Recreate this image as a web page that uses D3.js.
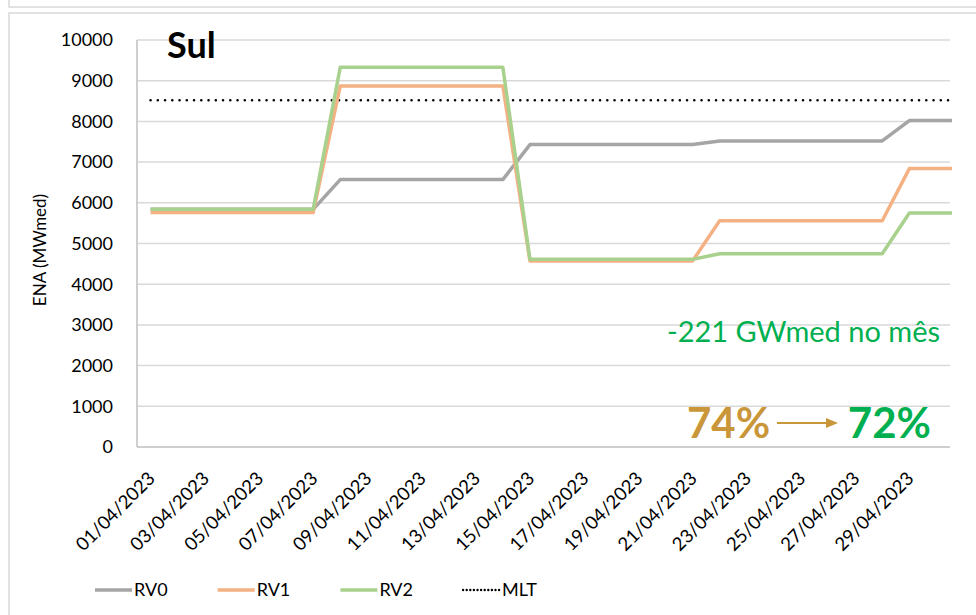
<!DOCTYPE html>
<html>
<head>
<meta charset="utf-8">
<script src="https://cdn.jsdelivr.net/npm/d3@7"></script>
<style>
  body { margin: 0; background: #fff; }
  svg { display: block; font-family: Lato, "Open Sans", sans-serif; }
</style>
</head>
<body>
<div id="chart-container"></div>
<script>
// Dates of April 2023 (one point per day)
const dates = [
  "01/04/2023", "02/04/2023", "03/04/2023", "04/04/2023", "05/04/2023",
  "06/04/2023", "07/04/2023", "08/04/2023", "09/04/2023", "10/04/2023",
  "11/04/2023", "12/04/2023", "13/04/2023", "14/04/2023", "15/04/2023",
  "16/04/2023", "17/04/2023", "18/04/2023", "19/04/2023", "20/04/2023",
  "21/04/2023", "22/04/2023", "23/04/2023", "24/04/2023", "25/04/2023",
  "26/04/2023", "27/04/2023", "28/04/2023", "29/04/2023", "30/04/2023"
];

// ENA (MWmed) per revision
const rv0 = [
  5840, 5840, 5840, 5840, 5840, 5840, 5840,
  6570, 6570, 6570, 6570, 6570, 6570, 6570,
  7430, 7430, 7430, 7430, 7430, 7430, 7430,
  7520, 7520, 7520, 7520, 7520, 7520, 7520,
  8020, 8020
];
const rv1 = [
  5760, 5760, 5760, 5760, 5760, 5760, 5760,
  8870, 8870, 8870, 8870, 8870, 8870, 8870,
  4570, 4570, 4570, 4570, 4570, 4570, 4570,
  5560, 5560, 5560, 5560, 5560, 5560, 5560,
  6840, 6840
];
const rv2 = [
  5840, 5840, 5840, 5840, 5840, 5840, 5840,
  9330, 9330, 9330, 9330, 9330, 9330, 9330,
  4610, 4610, 4610, 4610, 4610, 4610, 4610,
  4750, 4750, 4750, 4750, 4750, 4750, 4750,
  5750, 5750
];
const mlt = 8520;

const yTicks = [0, 1000, 2000, 3000, 4000, 5000, 6000, 7000, 8000, 9000, 10000];
const xTickLabels = dates.filter((d, i) => i % 2 === 0);

const seriesNames = ["RV0", "RV1", "RV2", "MLT"];
const seriesColors = ["#A5A5A5", "#F4B183", "#A9D18E", "#000000"];

const width = 976, height = 615;
const plot = { left: 137, right: 950, top: 40, bottom: 447 };

const svg = d3.select("#chart-container").append("svg")
    .attr("width", width)
    .attr("height", height);

// outer frames
svg.append("path")
    .attr("d", `M9,-2 V7 H${width + 5}`)
    .attr("fill", "none")
    .attr("stroke", "#D9D9D9")
    .attr("stroke-width", 1.5);
svg.append("rect")
    .attr("x", 9).attr("y", 13)
    .attr("width", width + 10).attr("height", height + 10)
    .attr("fill", "none")
    .attr("stroke", "#D9D9D9")
    .attr("stroke-width", 1.5);

const x = d3.scalePoint()
    .domain(dates)
    .range([plot.left, plot.right])
    .padding(0.5);

const y = d3.scaleLinear()
    .domain([0, 10000])
    .range([plot.bottom, plot.top]);

// gridlines
svg.append("g")
  .selectAll("line")
  .data(yTicks.slice(1))
  .join("line")
    .attr("x1", plot.left).attr("x2", plot.right)
    .attr("y1", d => y(d)).attr("y2", d => y(d))
    .attr("stroke", "#D9D9D9")
    .attr("stroke-width", 1.5);

// axis lines
svg.append("line")
    .attr("x1", plot.left).attr("x2", plot.left)
    .attr("y1", y(10000)).attr("y2", y(0))
    .attr("stroke", "#BFBFBF").attr("stroke-width", 1.5);
svg.append("line")
    .attr("x1", plot.left).attr("x2", plot.right)
    .attr("y1", y(0)).attr("y2", y(0))
    .attr("stroke", "#BFBFBF").attr("stroke-width", 1.5);

// y tick labels
svg.append("g")
    .attr("font-size", 18)
    .attr("fill", "#000")
    .attr("text-anchor", "end")
  .selectAll("text")
  .data(yTicks)
  .join("text")
    .attr("x", 113)
    .attr("y", d => y(d))
    .attr("dy", "0.35em")
    .text(d => d);

// x tick labels
svg.append("g")
    .attr("font-size", 18.5)
    .attr("fill", "#000")
    .attr("text-anchor", "end")
  .selectAll("text")
  .data(xTickLabels)
  .join("text")
    .attr("transform", d => `translate(${x(d) + 1},${475}) rotate(-45)`)
    .attr("dy", "0.35em")
    .text(d => d);

// y axis title
svg.append("text")
    .attr("transform", `translate(40,${250}) rotate(-90)`)
    .attr("text-anchor", "middle")
    .attr("dy", "0.35em")
    .attr("font-size", 17)
    .text("ENA (MWmed)");

// MLT reference line
svg.append("line")
    .attr("x1", x(dates[0])).attr("x2", plot.right)
    .attr("y1", y(mlt)).attr("y2", y(mlt))
    .attr("stroke", "#000")
    .attr("stroke-width", 2.6)
    .attr("stroke-linecap", "round")
    .attr("stroke-dasharray", "0 7.25");

// series lines (continue flat to the plot edge)
const line = d3.line()
    .x(d => d[0])
    .y(d => d[1]);

[rv0, rv1, rv2].forEach((values, k) => {
  const pts = values.map((v, i) => [x(dates[i]), y(v)]);
  pts.push([plot.right + 2, y(values[values.length - 1])]);
  svg.append("path")
      .datum(pts)
      .attr("d", line)
      .attr("fill", "none")
      .attr("stroke", seriesColors[k])
      .attr("stroke-width", 3.5)
      .attr("stroke-linejoin", "round");
});

// title
svg.append("text")
    .attr("x", 167).attr("y", 58)
    .attr("font-size", 36)
    .attr("font-weight", "bold")
    .text("Sul");

// annotations
svg.append("text")
    .attr("x", 940).attr("y", 342)
    .attr("text-anchor", "end")
    .attr("font-size", 29)
    .attr("fill", "#00B050")
    .text("-221 GWmed no mês");

svg.append("text")
    .attr("x", 687).attr("y", 438)
    .attr("font-size", 42)
    .attr("font-weight", "bold")
    .attr("fill", "#C9963A")
    .text("74%");

svg.append("line")
    .attr("x1", 777).attr("x2", 828)
    .attr("y1", 423).attr("y2", 423)
    .attr("stroke", "#C9963A")
    .attr("stroke-width", 2);
svg.append("path")
    .attr("d", "M826,418 L838,423 L826,428 Z")
    .attr("fill", "#C9963A");

svg.append("text")
    .attr("x", 931).attr("y", 438)
    .attr("text-anchor", "end")
    .attr("font-size", 42)
    .attr("font-weight", "bold")
    .attr("fill", "#00B050")
    .text("72%");

// legend
const legend = svg.append("g")
    .attr("font-size", 18)
  .selectAll("g")
  .data(seriesNames)
  .join("g")
    .attr("transform", (d, i) => `translate(${95 + i * 122.7},590)`);

legend.append("line")
    .attr("x1", 0).attr("x2", 37)
    .attr("y1", 0).attr("y2", 0)
    .attr("stroke", (d, i) => seriesColors[i])
    .attr("stroke-width", (d, i) => i === 3 ? 2.4 : 3.5)
    .attr("stroke-linecap", (d, i) => i === 3 ? "round" : "butt")
    .attr("stroke-dasharray", (d, i) => i === 3 ? "0 3.6" : null);

legend.append("text")
    .attr("x", 39)
    .attr("dy", "0.35em")
    .text(d => d);
</script>
</body>
</html>
